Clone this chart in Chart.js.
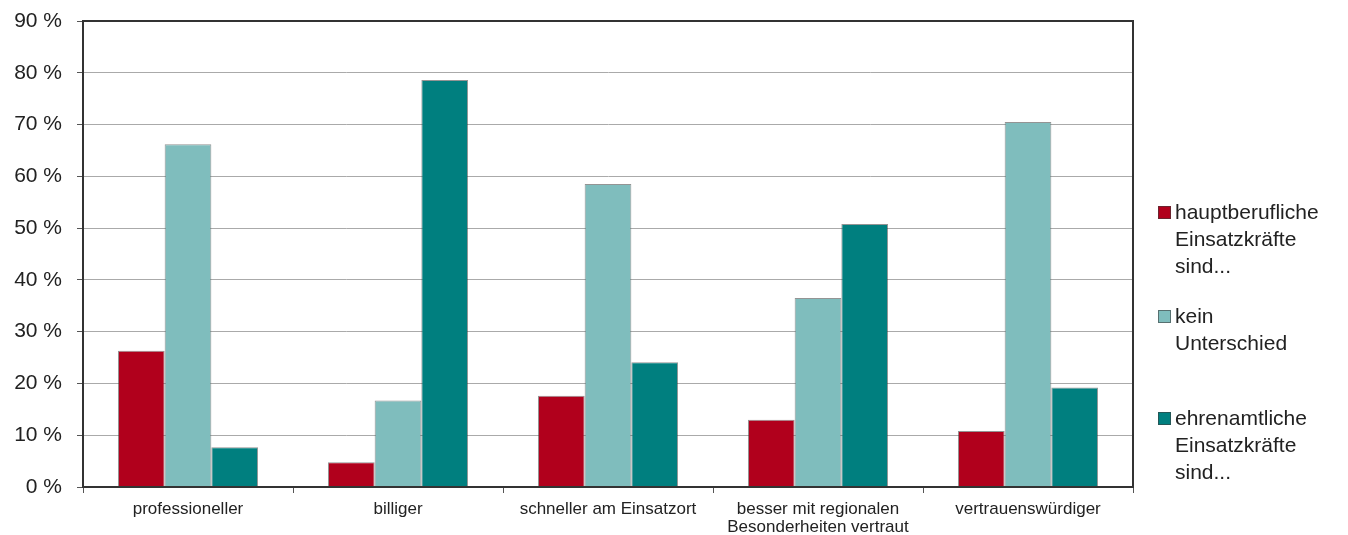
<!DOCTYPE html>
<html>
<head>
<meta charset="utf-8">
<script src="https://cdn.jsdelivr.net/npm/chart.js@4/dist/chart.umd.min.js"></script>
<style>
  html, body { margin: 0; padding: 0; background: #fff; }
  #wrap { position: relative; width: 1348px; height: 535px; }
  #legend { position: absolute; left: 1158px; top: 198px; font-family: "Liberation Sans", Arial, sans-serif; font-size: 21px; color: #222; }
  .item { position: absolute; left: 0; width: 190px; }
  .sw { position: absolute; left: 0; top: 8px; width: 13px; height: 13px; box-sizing: border-box; border: 1px solid rgba(60,60,60,0.6); }
  .txt { position: absolute; left: 17px; top: 0; line-height: 27px; white-space: nowrap; }
</style>
</head>
<body>
<div id="wrap">
  <canvas id="c" width="1348" height="535"></canvas>
  <div id="legend"></div>
</div>
<script>
const categories = ["professioneller", "billiger", "schneller am Einsatzort", ["besser mit regionalen", "Besonderheiten vertraut"], "vertrauenswürdiger"];
const seriesNames = [["hauptberufliche", "Einsatzkräfte", "sind..."], ["kein", "Unterschied"], ["ehrenamtliche", "Einsatzkräfte", "sind..."]];
const hauptberuflich = [26.3, 4.8, 17.6, 13.0, 10.8];
const keinUnterschied = [66.2, 16.7, 58.5, 36.5, 70.5];
const ehrenamtlich = [7.7, 78.6, 24.1, 50.8, 19.2];
const yTicks = [0, 10, 20, 30, 40, 50, 60, 70, 80, 90];
const colors = ["#b1001c", "#7fbdbd", "#007f7f"];
const legendTops = [0, 104, 206];

const seriesData = [hauptberuflich, keinUnterschied, ehrenamtlich];

const borderPlugin = {
  id: 'frame',
  afterDraw(chart) {
    const a = chart.chartArea, ctx = chart.ctx;
    ctx.save();
    ctx.strokeStyle = '#333';
    ctx.lineWidth = 2;
    ctx.strokeRect(a.left, a.top, a.right - a.left, a.bottom - a.top);
    ctx.restore();
  }
};

new Chart(document.getElementById('c'), {
  type: 'bar',
  data: {
    labels: categories,
    datasets: seriesData.map((d, i) => ({
      label: seriesNames[i].join(' '),
      data: d,
      backgroundColor: colors[i],
      borderColor: 'rgba(60,60,60,0.55)',
      borderWidth: 1,
      categoryPercentage: 0.667,
      barPercentage: 1.0
    }))
  },
  options: {
    responsive: false,
    animation: false,
    layout: { padding: { top: 21, right: 215, left: 0, bottom: 0 } },
    plugins: { legend: { display: false }, tooltip: { enabled: false } },
    scales: {
      x: {
        offset: true,
        grid: { display: true, drawOnChartArea: false, tickLength: 6, offset: true, color: '#555' },
        border: { color: '#333', width: 2 },
        ticks: { color: '#222', padding: 7, font: { family: '"Liberation Sans", Arial, sans-serif', size: 17, lineHeight: 1.08 }, maxRotation: 0, autoSkip: false },
        afterFit(s) { s.height = 48; s.paddingLeft = 0; s.paddingRight = 0; }
      },
      y: {
        min: 0, max: 90,
        afterBuildTicks(s) { s.ticks = yTicks.map(v => ({ value: v })); },
        grid: { color: '#aaa', lineWidth: 1, tickLength: 6, tickColor: '#555' },
        border: { color: '#333', width: 2 },
        ticks: { color: '#222', padding: 15, font: { family: '"Liberation Sans", Arial, sans-serif', size: 21 }, callback: v => v + ' %' },
        afterFit(s) { s.width = 83; s.paddingTop = 0; s.paddingBottom = 0; }
      }
    }
  },
  plugins: [borderPlugin]
});

const lg = document.getElementById('legend');
seriesNames.forEach((lines, i) => {
  const it = document.createElement('div');
  it.className = 'item';
  it.style.top = legendTops[i] + 'px';
  const sw = document.createElement('div');
  sw.className = 'sw';
  sw.style.background = colors[i];
  const tx = document.createElement('div');
  tx.className = 'txt';
  tx.innerHTML = lines.join('<br>');
  it.appendChild(sw); it.appendChild(tx);
  lg.appendChild(it);
});
</script>
</body>
</html>
